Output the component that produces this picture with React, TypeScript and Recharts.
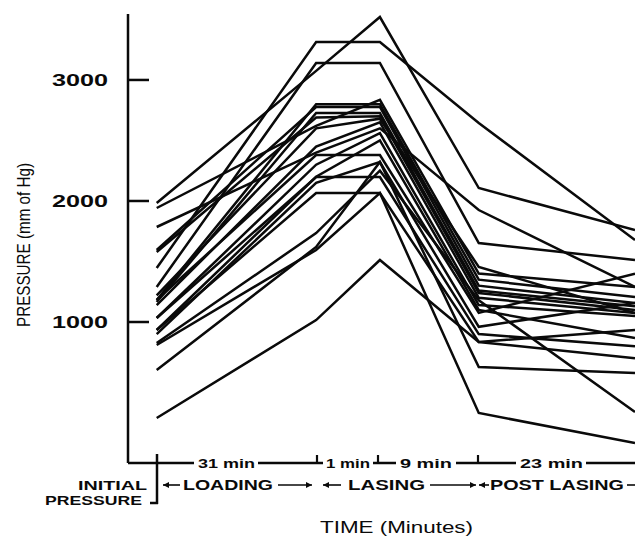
import React from 'react';
import { LineChart, Line, XAxis, YAxis } from 'recharts';

// schematic positions of the measurement stages along the (not to scale) time axis
const STAGE_X = [0, 1, 1.4, 2.02, 3];
const STAGE_KEYS = ['initial', 'endLoading', 'peakLasing', 'endLasing', 'postLasing'];

// pressure (mm of Hg) per subject at each stage, same index = same subject
const INITIAL = [1983, 1446, 1290, 1942, 1182, 1595, 1165, 1578, 1220, 1140, 1785, 1033, 934, 1182, 900, 1033, 934, 603, 826, 810, 207];
const END_LOADING = [3075, 3314, 3140, 2620, 2800, 2777, 2727, 2690, 2600, 2450, 2400, 2300, 2200, 2380, 2150, 2198, 2066, 1620, 1735, 1595, 1016];
const PEAK_LASING = [3520, 3314, 3140, 2835, 2800, 2777, 2727, 2700, 2680, 2650, 2600, 2560, 2500, 2380, 2322, 2198, 2066, 2322, 2250, 2066, 1512];
const END_LASING = [2107, 2645, 1653, 1400, 1350, 1300, 1260, 1240, 1455, 1200, 1925, 1140, 1100, 1075, 960, 900, 835, 628, 1180, 248, 835];
const POST_LASING = [1760, 1678, 1512, 1290, 1207, 1157, 1130, 1100, 1075, 1075, 1290, 1050, 868, 1400, 1157, 800, 934, 578, 256, 0, 700];

const Y_TICKS = [1000, 2000, 3000];

const STAGE_VALUES = [INITIAL, END_LOADING, PEAK_LASING, END_LASING, POST_LASING];

const rows = STAGE_X.map((x, i) => {
  const row: Record<string, number | string> = { x, stage: STAGE_KEYS[i] };
  STAGE_VALUES[i].forEach((v, j) => {
    row[`s${j}`] = v;
  });
  return row;
});

const seriesKeys = INITIAL.map((_, j) => `s${j}`);

const INK = '#0a0a0a';
const LABEL_FONT = '"Liberation Sans", Arial, sans-serif';

const PressureTick = (props: any) => {
  const { x, y, payload } = props;
  return (
    <g>
      <line x1={x} y1={y} x2={x + 21} y2={y} stroke={INK} strokeWidth={2.5} />
      <text
        x={x - 20}
        y={y + 6}
        textAnchor="end"
        fontFamily={LABEL_FONT}
        fontWeight="bold"
        fontSize={17}
        fill={INK}
        textLength={56}
        lengthAdjust="spacingAndGlyphs"
      >
        {payload.value}
      </text>
    </g>
  );
};

const Arrow = ({ x, y, dir }: { x: number; y: number; dir: number }) => (
  <polygon points={`${x},${y} ${x - dir * 6},${y - 3} ${x - dir * 6},${y + 3}`} fill={INK} />
);

const Annotations = () => {
  const axisY = 463;
  const row2 = 485;
  const lbl = (x: number, y: number, txt: string, w: number, size = 13) => (
    <text
      x={x}
      y={y}
      fontFamily={LABEL_FONT}
      fontWeight="bold"
      fontSize={size}
      fill={INK}
      textLength={w}
      lengthAdjust="spacingAndGlyphs"
    >
      {txt}
    </text>
  );
  const gap = (x: number, w: number) => (
    <rect x={x} y={axisY - 5} width={w} height={10} fill="#fff" />
  );
  return (
    <svg
      width={635}
      height={536}
      style={{ position: 'absolute', left: 0, top: 0, pointerEvents: 'none' }}
    >
      {/* breaks in the axis line for the duration labels */}
      {gap(194, 64)}
      {gap(323, 50)}
      {gap(396, 60)}
      {gap(516, 70)}
      {lbl(198, axisY + 5, '31 min', 57, 13)}
      {lbl(326, axisY + 5, '1 min', 44, 13)}
      {lbl(400, axisY + 5, '9 min', 52, 13)}
      {lbl(520, axisY + 5, '23 min', 63, 13)}

      {/* stage markers on the time axis */}
      <line x1={157} y1={454} x2={157} y2={504} stroke={INK} strokeWidth={2.5} />
      <line x1={150} y1={503} x2={158} y2={503} stroke={INK} strokeWidth={2.5} />
      <line x1={317} y1={455} x2={317} y2={463} stroke={INK} strokeWidth={2.2} />
      <line x1={378} y1={455} x2={378} y2={463} stroke={INK} strokeWidth={2.2} />
      <line x1={478} y1={455} x2={478} y2={463} stroke={INK} strokeWidth={2.2} />

      {/* phase labels */}
      <line x1={163} y1={row2} x2={180} y2={row2} stroke={INK} strokeWidth={1.6} />
      <Arrow x={163} y={row2} dir={-1} />
      {lbl(183, row2 + 5, 'LOADING', 90, 14)}
      <line x1={278} y1={row2} x2={312} y2={row2} stroke={INK} strokeWidth={1.6} />
      <Arrow x={312} y={row2} dir={1} />

      <line x1={323} y1={row2} x2={341} y2={row2} stroke={INK} strokeWidth={1.6} />
      <Arrow x={323} y={row2} dir={-1} />
      {lbl(348, row2 + 5, 'LASING', 77, 14)}
      <line x1={430} y1={row2} x2={476} y2={row2} stroke={INK} strokeWidth={1.6} />
      <Arrow x={476} y={row2} dir={1} />

      <line x1={479} y1={row2} x2={489} y2={row2} stroke={INK} strokeWidth={1.6} />
      <Arrow x={479} y={row2} dir={-1} />
      {lbl(490, row2 + 5, 'POST LASING', 134, 14)}
      <line x1={627} y1={row2} x2={635} y2={row2} stroke={INK} strokeWidth={1.6} />

      {lbl(78, row2 + 5, 'INITIAL', 69, 13)}
      {lbl(45, 505, 'PRESSURE', 97, 13)}

      <text
        x={320}
        y={533}
        fontFamily={LABEL_FONT}
        fontSize={16}
        fill={INK}
        textLength={153}
        lengthAdjust="spacingAndGlyphs"
      >
        TIME  (Minutes)
      </text>
      <text
        x={0}
        y={0}
        transform="translate(30, 245) rotate(-90)"
        textAnchor="middle"
        fontFamily={LABEL_FONT}
        fontSize={19}
        fill={INK}
        textLength={164}
        lengthAdjust="spacingAndGlyphs"
      >
        PRESSURE (mm of Hg)
      </text>
    </svg>
  );
};

const App: React.FC = () => {
  return (
    <div style={{ position: 'absolute', left: 0, top: 0, width: 635, height: 536, background: '#fff' }}>
      <LineChart width={635} height={536} data={rows} margin={{ top: 14, right: 0, bottom: 0, left: 0 }}>
        <XAxis
          dataKey="x"
          type="number"
          domain={[-0.18, 3]}
          ticks={STAGE_X}
          tick={false}
          tickLine={false}
          height={73}
          axisLine={{ stroke: INK, strokeWidth: 2.5 }}
          allowDataOverflow
        />
        <YAxis
          type="number"
          domain={[-165, 3545]}
          ticks={Y_TICKS}
          width={128}
          tickSize={0}
          tickMargin={0}
          tickLine={false}
          tick={<PressureTick />}
          axisLine={{ stroke: INK, strokeWidth: 2.5 }}
          allowDataOverflow
        />
        {seriesKeys.map((k) => (
          <Line
            key={k}
            dataKey={k}
            type="linear"
            stroke={INK}
            strokeWidth={2.5}
            dot={false}
            activeDot={false}
            isAnimationActive={false}
          />
        ))}
      </LineChart>
      <Annotations />
    </div>
  );
};

export default App;
